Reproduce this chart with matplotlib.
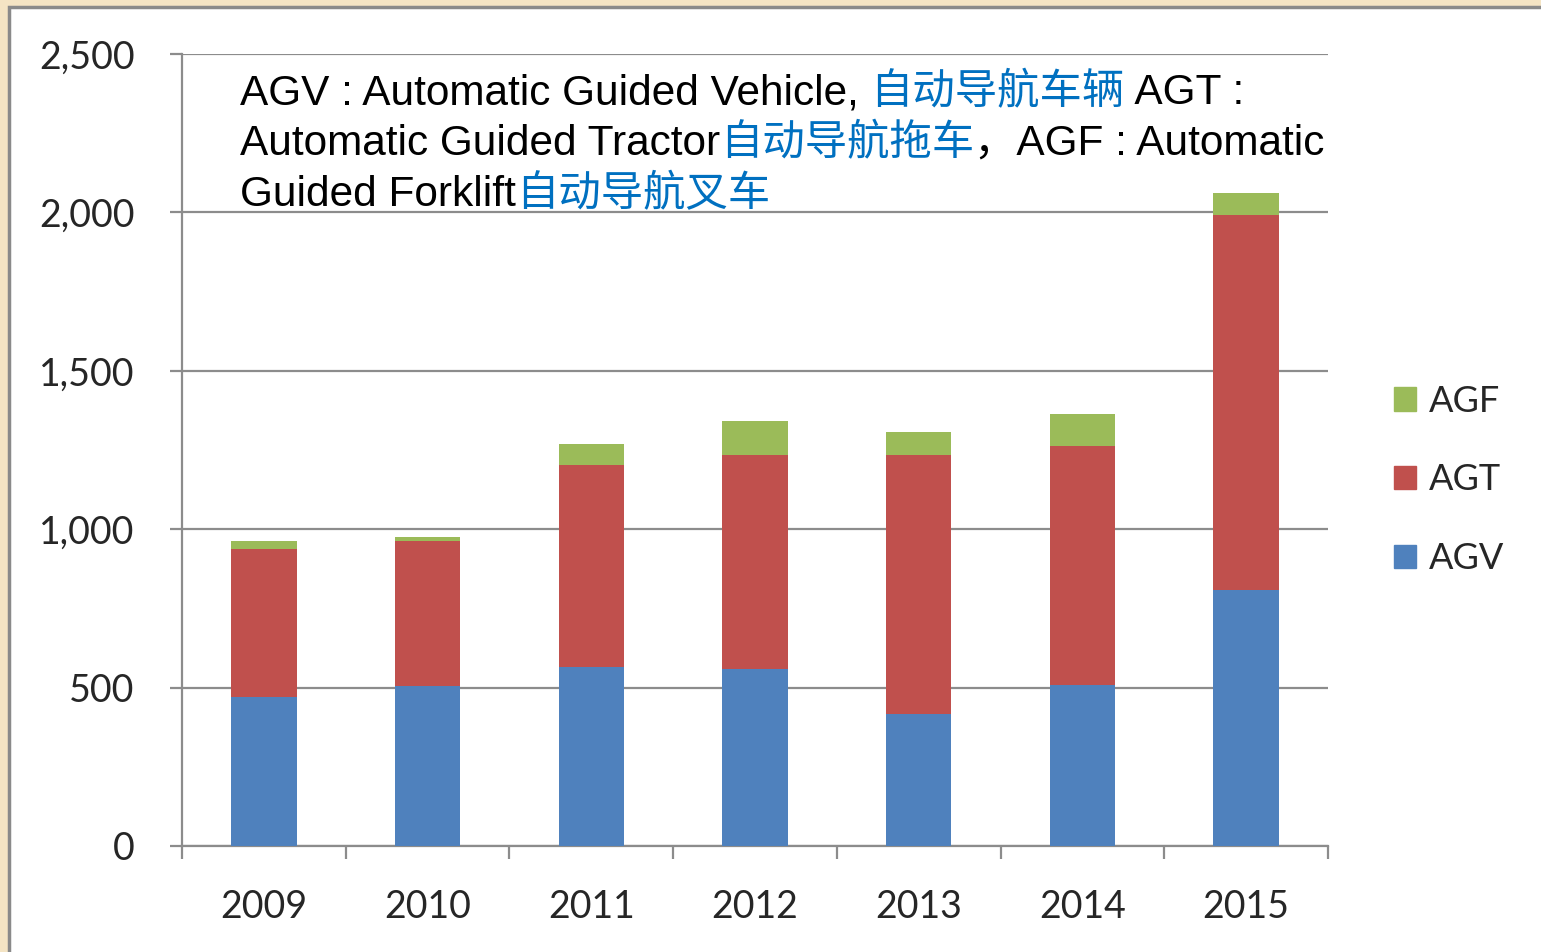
import matplotlib
matplotlib.use("Agg")
import matplotlib.pyplot as plt
from matplotlib.patches import Rectangle, Patch
from matplotlib.ticker import FuncFormatter, MultipleLocator
import numpy as np

years = ["2009", "2010", "2011", "2012", "2013", "2014", "2015"]
agv = [470, 505, 565, 559, 417, 508, 808]
agt = [467, 458, 638, 675, 817, 755, 1184]
agf = [26, 12, 66, 108, 73, 101, 69]

C_AGV = "#4F81BD"
C_AGT = "#C0504D"
C_AGF = "#9BBB59"
C_CN = "#0070C0"
GRID = "#8C8C8C"

W, H = 1541, 952
fig = plt.figure(figsize=(W / 100, H / 100), dpi=100, facecolor="#F4E4C4")
# white panel with gray frame on left/top
fig.patches.append(Rectangle((9 / W, -0.1), 1.2, 1.1 - 7 / H, transform=fig.transFigure,
                             facecolor="white", edgecolor="#8A8A8A", linewidth=2.5, zorder=-10))

ax = fig.add_axes([182 / W, 106 / H, (1328 - 182) / W, (846 - 54) / H])
ax.set_facecolor("none")
x = np.arange(len(years))
bw = 0.4
agv_a = np.array(agv); agt_a = np.array(agt); agf_a = np.array(agf)
ax.bar(x, agv_a, bw, color=C_AGV, zorder=3)
ax.bar(x, agt_a, bw, bottom=agv_a, color=C_AGT, zorder=3)
ax.bar(x, agf_a, bw, bottom=agv_a + agt_a, color=C_AGF, zorder=3)

ax.set_xlim(-0.5, len(years) - 0.5)
ax.set_ylim(0, 2500)
ax.yaxis.set_major_locator(MultipleLocator(500))
ax.yaxis.set_major_formatter(FuncFormatter(lambda v, p: f"{v:,.0f}"))
ax.grid(axis="y", color=GRID, linewidth=1.6, zorder=0)
for s in ["top", "right"]:
    ax.spines[s].set_visible(False)
for s in ["left", "bottom"]:
    ax.spines[s].set_color(GRID)
    ax.spines[s].set_linewidth(1.6)

# x ticks at category boundaries, labels at centers
ax.set_xticks(np.arange(-0.5, len(years), 1.0))
ax.set_xticklabels([])
ax.set_xticks(x, minor=True)
ax.set_xticklabels(years, minor=True)
ax.tick_params(axis="x", which="major", length=9, width=1.6, color=GRID, direction="out")
ax.tick_params(axis="x", which="minor", length=0, pad=31, labelsize=27, labelcolor="#262626")
ax.tick_params(axis="y", length=9, width=1.6, color=GRID, direction="out", pad=25,
               labelsize=27, labelcolor="#262626")
for lab in ax.get_xticklabels(minor=True) + ax.get_yticklabels():
    lab.set_family("Lato")

# legend
handles = [Patch(color=C_AGF, label="AGF"), Patch(color=C_AGT, label="AGT"), Patch(color=C_AGV, label="AGV")]
leg = fig.legend(handles=handles, loc="center left", bbox_to_anchor=(1394 / W, 1 - 480 / H),
                 frameon=False, prop={"family": "Lato", "size": 26}, handlelength=0.62,
                 handleheight=0.62, handletextpad=0.35, labelspacing=1.27, borderpad=0,
                 borderaxespad=0)
for t in leg.get_texts():
    t.set_color("#262626")

# mixed-colour annotation text
fam = ["Liberation Sans", "Noto Sans CJK SC"]
lines = [
    [("AGV : Automatic Guided Vehicle, ", "black"), ("自动导航车辆", C_CN), (" AGT :", "black")],
    [("Automatic Guided Tractor", "black"), ("自动导航拖车", C_CN), ("，AGF : Automatic", "black")],
    [("Guided Forklift", "black"), ("自动导航叉车", C_CN)],
]
baselines = [104, 155, 206]
fig.canvas.draw()
renderer = fig.canvas.get_renderer()
for pieces, by in zip(lines, baselines):
    xpix = 240
    for s, c in pieces:
        t = fig.text(xpix / W, 1 - by / H, s, color=c, fontsize=30.5, family=fam,
                     va="baseline", ha="left", zorder=5)
        bb = t.get_window_extent(renderer=renderer)
        xpix = bb.x1

fig.savefig("out.png", dpi=100, facecolor=fig.get_facecolor())
